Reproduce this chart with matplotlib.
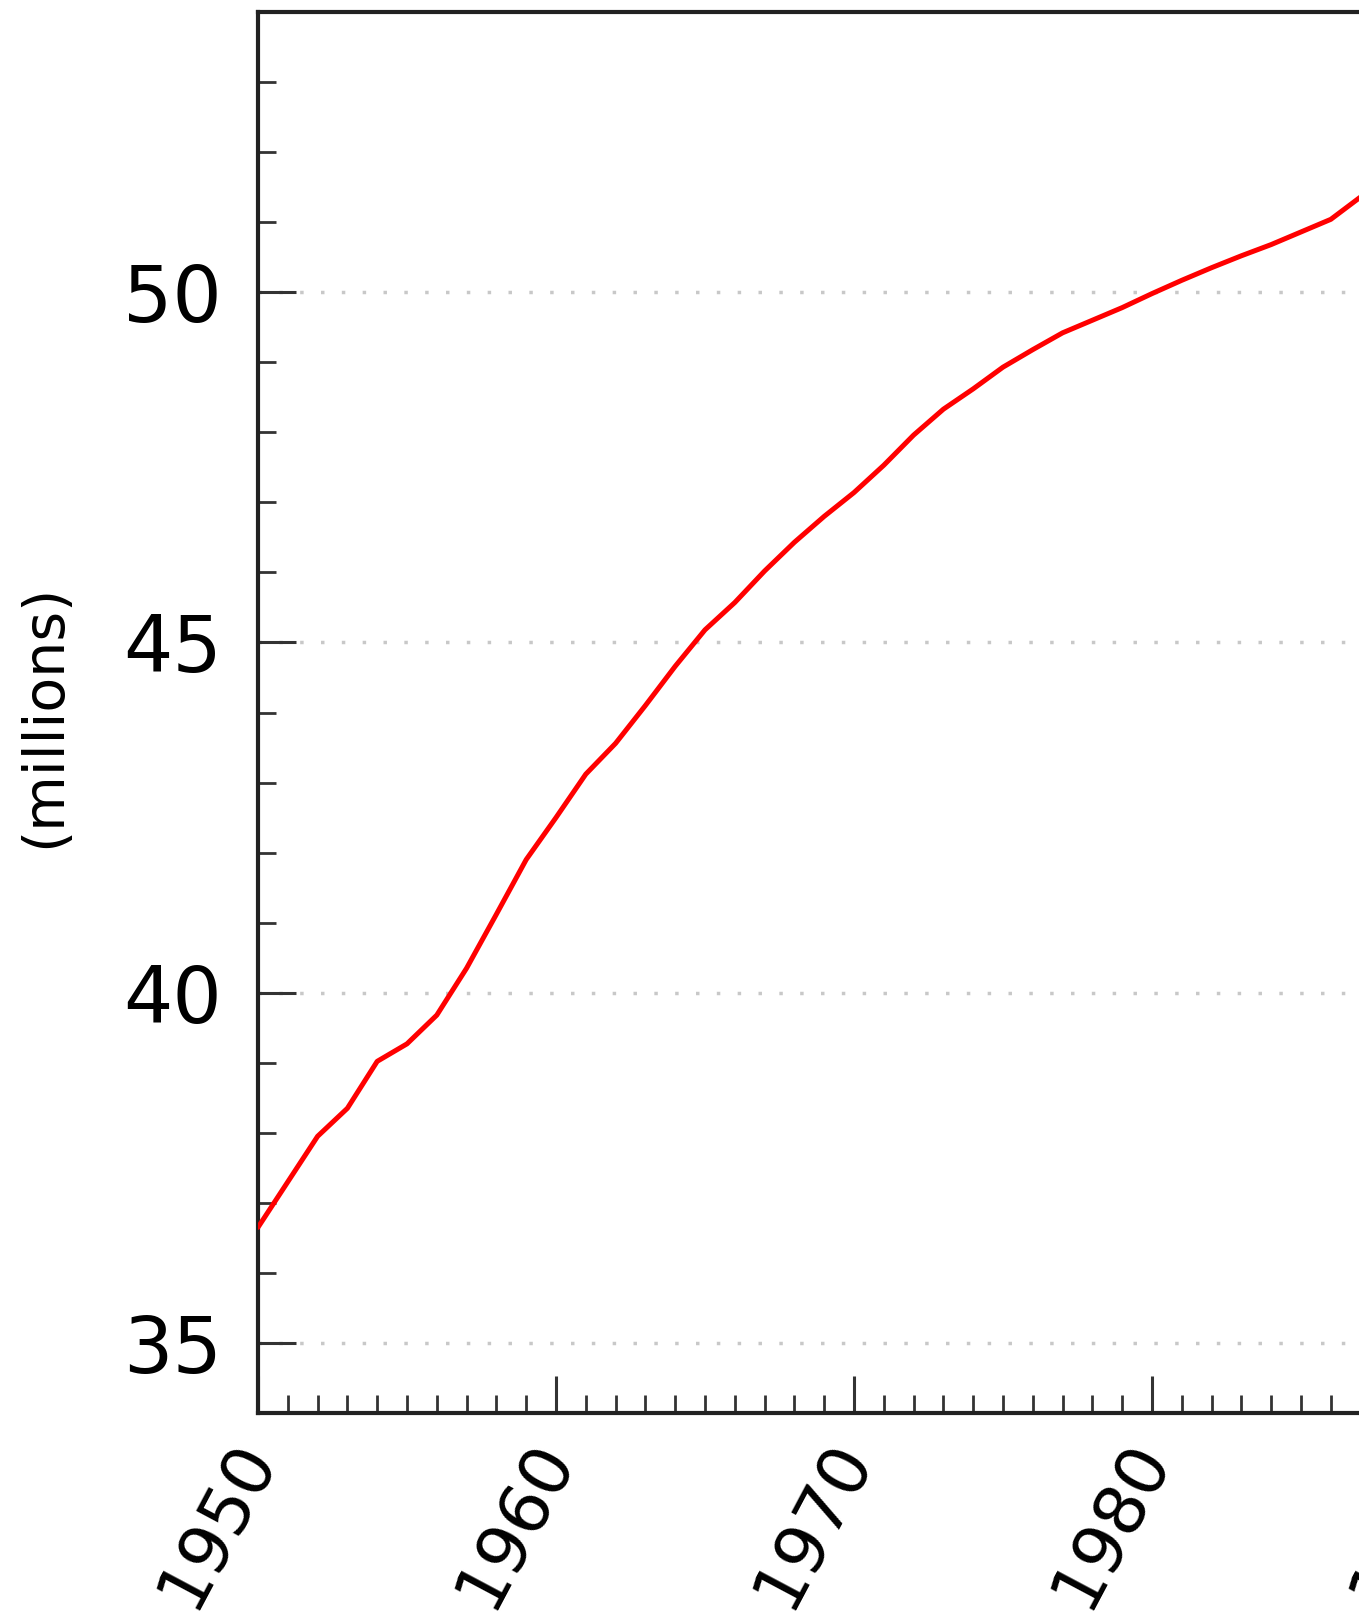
import matplotlib

matplotlib.use("Agg")
import matplotlib.pyplot as plt  # noqa: E402
from matplotlib.ticker import MultipleLocator  # noqa: E402

# population readings (millions), one per year
years = [1950, 1951, 1952, 1953, 1954, 1955, 1956, 1957, 1958, 1959,
         1960, 1961, 1962, 1963, 1964, 1965, 1966, 1967, 1968, 1969,
         1970, 1971, 1972, 1973, 1974, 1975, 1976, 1977, 1978, 1979,
         1980, 1981, 1982, 1983, 1984, 1985, 1986, 1987]
population = [36.65, 37.30, 37.95, 38.35, 39.02, 39.27, 39.68, 40.35, 41.12, 41.90,
              42.50, 43.12, 43.56, 44.10, 44.66, 45.18, 45.57, 46.02, 46.43, 46.80,
              47.14, 47.53, 47.96, 48.33, 48.62, 48.93, 49.18, 49.42, 49.60, 49.78,
              49.98, 50.17, 50.35, 50.52, 50.68, 50.86, 51.04, 51.36]
y_ticks = [35, 40, 45, 50]
x_ticks = [1950, 1960, 1970, 1980, 1990]

W, H = 1359, 1617
fig = plt.figure(figsize=(W / 100, H / 100), dpi=100)
# axes run past the right edge of the picture (the chart is cropped there)
left, right_px = 258, 258 + 50 * 29.8
top, bottom = 12, 1413
ax = fig.add_axes([left / W, 1 - bottom / H, (right_px - left) / W, (bottom - top) / H])

ax.plot(years, population, color="#ff0000", linewidth=3.6, solid_capstyle="round", zorder=3)

ax.set_xlim(1950, 2000)
ax.set_ylim(34, 54)
ax.set_xticks(x_ticks)
ax.set_xticklabels([str(x) for x in x_ticks])
ax.set_yticks(y_ticks)
ax.set_yticklabels([str(y) for y in y_ticks])
ax.xaxis.set_minor_locator(MultipleLocator(1))
ax.yaxis.set_minor_locator(MultipleLocator(1))

ax.tick_params(axis="both", which="major", direction="in", length=27, width=2.2, color="#333333")
ax.tick_params(axis="both", which="minor", direction="in", length=13, width=2.0, color="#333333")
ax.tick_params(axis="y", which="major", labelsize=56, pad=26)
ax.tick_params(axis="x", which="major", labelsize=50, pad=24)
ax.tick_params(top=False, right=False, which="both")
for lbl in ax.get_xticklabels():
    lbl.set_rotation(62)
    lbl.set_ha("right")
    lbl.set_va("center")
    lbl.set_rotation_mode("anchor")

for side in ("left", "bottom", "top"):
    ax.spines[side].set_linewidth(3)
    ax.spines[side].set_color("#222222")
ax.spines["right"].set_visible(False)

ax.grid(axis="y", which="major", linestyle=(0, (1, 5)), color="#c8c8c8", linewidth=2.5)
ax.set_axisbelow(True)

fig.text(45 / W, 1 - 716 / H, "(millions)", rotation=90, ha="center", va="center", fontsize=41)

fig.savefig("out.png", dpi=100)
plt.close(fig)
